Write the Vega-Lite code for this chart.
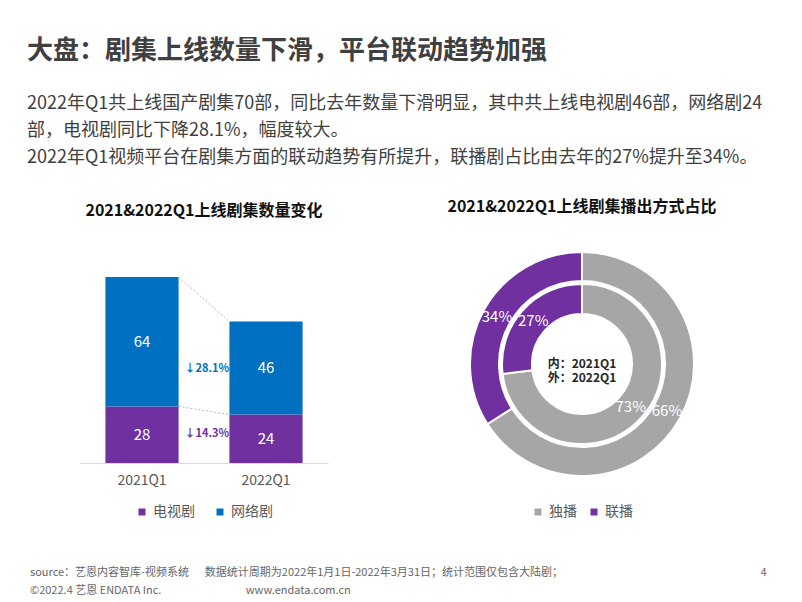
{
  "$schema": "https://vega.github.io/schema/vega-lite/v6.json",
  "background": "white",
  "padding": {"left": 27, "top": 38, "right": 20, "bottom": 8},
  "config": {
    "font": "Noto Sans CJK SC",
    "view": {"stroke": null},
    "legend": {"layout": {"bottom": {"anchor": "middle"}}}
  },
  "title": {
    "text": "大盘：剧集上线数量下滑，平台联动趋势加强",
    "subtitle": [
      "2022年Q1共上线国产剧集70部，同比去年数量下滑明显，其中共上线电视剧46部，网络剧24",
      "部，电视剧同比下降28.1%，幅度较大。",
      "2022年Q1视频平台在剧集方面的联动趋势有所提升，联播剧占比由去年的27%提升至34%。"
    ],
    "anchor": "start",
    "dx": -3,
    "font": "Noto Sans CJK SC",
    "fontSize": 26,
    "fontWeight": "bold",
    "color": "#404040",
    "subtitleFont": "Noto Sans CJK SC",
    "subtitleFontSize": 18,
    "subtitleFontWeight": "normal",
    "subtitleColor": "#404040",
    "subtitleLineHeight": 27,
    "subtitlePadding": 31,
    "offset": 32
  },
  "vconcat": [
    {
      "title": {
        "text": [
          "source：艺恩内容智库-视频系统　\u00a0\u00a0数据统计周期为2022年1月1日-2022年3月31日；统计范围仅包含大陆剧；　　　　　　　　　　　　　　　　　　\u00a0\u00a04",
          "©2022.4 艺恩 ENDATA Inc.　　　　　　　\u00a0\u00a0\u00a0www.endata.com.cn"
        ],
        "orient": "bottom",
        "anchor": "start",
        "dx": -50,
        "fontSize": 11,
        "fontWeight": "normal",
        "color": "#666666",
        "lineHeight": 18,
        "offset": 48
      },
      "spacing": 119,
      "resolve": {"scale": {"color": "independent"}, "legend": {"color": "independent"}},
      "hconcat": [
        {
          "width": 248,
          "height": 186,
          "title": {
            "text": "2021&2022Q1上线剧集数量变化",
            "fontSize": 16,
            "fontWeight": "bold",
            "color": "#111111",
            "anchor": "middle",
            "offset": 58
          },
          "layer": [
            {
              "data": {
                "values": [
                  {"quarter": "2021Q1", "type": "电视剧", "count": 28},
                  {"quarter": "2021Q1", "type": "网络剧", "count": 64},
                  {"quarter": "2022Q1", "type": "电视剧", "count": 24},
                  {"quarter": "2022Q1", "type": "网络剧", "count": 46}
                ]
              },
              "mark": {"type": "bar"},
              "encoding": {
                "x": {
                  "field": "quarter",
                  "type": "nominal",
                  "scale": {"paddingInner": 0.41, "paddingOuter": 0.205},
                  "axis": {
                    "title": null,
                    "labelAngle": 0,
                    "labelFontSize": 14,
                    "labelColor": "#595959",
                    "ticks": false,
                    "domainColor": "#D9D9D9",
                    "labelPadding": 10
                  }
                },
                "y": {
                  "field": "count",
                  "type": "quantitative",
                  "stack": "zero",
                  "scale": {"domain": [0, 92], "nice": false},
                  "axis": null
                },
                "order": {"field": "type", "type": "nominal", "sort": "ascending"},
                "color": {
                  "field": "type",
                  "type": "nominal",
                  "scale": {"domain": ["电视剧", "网络剧"], "range": ["#7030A0", "#0070C0"]},
                  "legend": {
                    "title": null,
                    "orient": "bottom",
                    "direction": "horizontal",
                    "symbolType": "square",
                    "symbolSize": 49,
                    "labelFontSize": 14,
                    "labelColor": "#595959",
                    "columnPadding": 18,
                    "offset": 18
                  }
                }
              }
            },
            {
              "data": {
                "values": [
                  {"quarter": "2021Q1", "type": "电视剧", "count": 28},
                  {"quarter": "2021Q1", "type": "网络剧", "count": 64},
                  {"quarter": "2022Q1", "type": "电视剧", "count": 24},
                  {"quarter": "2022Q1", "type": "网络剧", "count": 46}
                ]
              },
              "mark": {"type": "text", "color": "white", "fontSize": 15},
              "encoding": {
                "x": {"field": "quarter", "type": "nominal"},
                "y": {"field": "count", "type": "quantitative", "stack": "zero", "bandPosition": 0.5},
                "order": {"field": "type", "type": "nominal", "sort": "ascending"},
                "detail": {"field": "type"},
                "text": {"field": "count", "type": "quantitative"}
              }
            },
            {
              "data": {
                "values": [
                  {"from": "2021Q1", "to": "2022Q1", "start": 92, "end": 70},
                  {"from": "2021Q1", "to": "2022Q1", "start": 28, "end": 24}
                ]
              },
              "mark": {"type": "rule", "color": "#A6A6A6", "strokeWidth": 0.8, "strokeDash": [2, 2]},
              "encoding": {
                "x": {"field": "from", "type": "nominal", "bandPosition": 1},
                "x2": {"field": "to", "bandPosition": 0},
                "y": {"field": "start", "type": "quantitative"},
                "y2": {"field": "end"}
              }
            },
            {
              "data": {
                "values": [
                  {"quarter": "2022Q1", "type": "网络剧", "level": 46.5, "label": "↓28.1%"},
                  {"quarter": "2022Q1", "type": "电视剧", "level": 14.3, "label": "↓14.3%"}
                ]
              },
              "mark": {"type": "text", "fontSize": 11, "fontWeight": "bold"},
              "encoding": {
                "x": {"field": "quarter", "type": "nominal", "bandPosition": -0.31},
                "y": {"field": "level", "type": "quantitative"},
                "color": {"field": "type", "type": "nominal", "legend": null},
                "text": {"field": "label"}
              }
            }
          ]
        },
        {
          "width": 230,
          "height": 174,
          "title": {
            "text": "2021&2022Q1上线剧集播出方式占比",
            "fontSize": 16,
            "fontWeight": "bold",
            "color": "#111111",
            "anchor": "middle",
            "offset": 33
          },
          "data": {
            "values": [
              {"ring": "2021Q1", "mode": "独播", "share": 0.73},
              {"ring": "2021Q1", "mode": "联播", "share": 0.27},
              {"ring": "2022Q1", "mode": "独播", "share": 0.66},
              {"ring": "2022Q1", "mode": "联播", "share": 0.34}
            ]
          },
          "layer": [
            {
              "transform": [{"filter": "datum.ring === '2021Q1'"}],
              "mark": {"type": "arc", "radius": 80, "radius2": 50, "stroke": "white", "strokeWidth": 2},
              "encoding": {
                "theta": {"field": "share", "type": "quantitative", "stack": true},
                "order": {"field": "mode", "type": "nominal", "sort": "ascending"},
                "color": {
                  "field": "mode",
                  "type": "nominal",
                  "scale": {"domain": ["独播", "联播"], "range": ["#A6A6A6", "#7030A0"]},
                  "legend": {
                    "title": null,
                    "orient": "bottom",
                    "direction": "horizontal",
                    "symbolType": "square",
                    "symbolSize": 49,
                    "symbolStrokeWidth": 0,
                    "labelFontSize": 14,
                    "labelColor": "#595959",
                    "columnPadding": 10,
                    "offset": 54
                  }
                }
              }
            },
            {
              "transform": [{"filter": "datum.ring === '2022Q1'"}],
              "mark": {"type": "arc", "radius": 112, "radius2": 83, "stroke": "white", "strokeWidth": 2},
              "encoding": {
                "theta": {"field": "share", "type": "quantitative", "stack": true},
                "order": {"field": "mode", "type": "nominal", "sort": "ascending"},
                "color": {"field": "mode", "type": "nominal"}
              }
            },
            {
              "transform": [{"filter": "datum.ring === '2021Q1'"}],
              "mark": {"type": "text", "radius": 65, "color": "white", "fontSize": 15},
              "encoding": {
                "theta": {"field": "share", "type": "quantitative", "stack": true},
                "order": {"field": "mode", "type": "nominal", "sort": "ascending"},
                "detail": {"field": "mode"},
                "text": {"field": "share", "type": "quantitative", "format": ".0%"}
              }
            },
            {
              "transform": [{"filter": "datum.ring === '2022Q1'"}],
              "mark": {"type": "text", "radius": 97, "color": "white", "fontSize": 15},
              "encoding": {
                "theta": {"field": "share", "type": "quantitative", "stack": true},
                "order": {"field": "mode", "type": "nominal", "sort": "ascending"},
                "detail": {"field": "mode"},
                "text": {"field": "share", "type": "quantitative", "format": ".0%"}
              }
            },
            {
              "data": {"values": [{"note": "内：2021Q1\n外：2022Q1"}]},
              "mark": {"type": "text", "fontSize": 12, "fontWeight": "bold", "color": "#262626", "lineBreak": "\n", "lineHeight": 14},
              "encoding": {
                "text": {"field": "note"}
              }
            }
          ]
        }
      ]
    }
  ]
}
